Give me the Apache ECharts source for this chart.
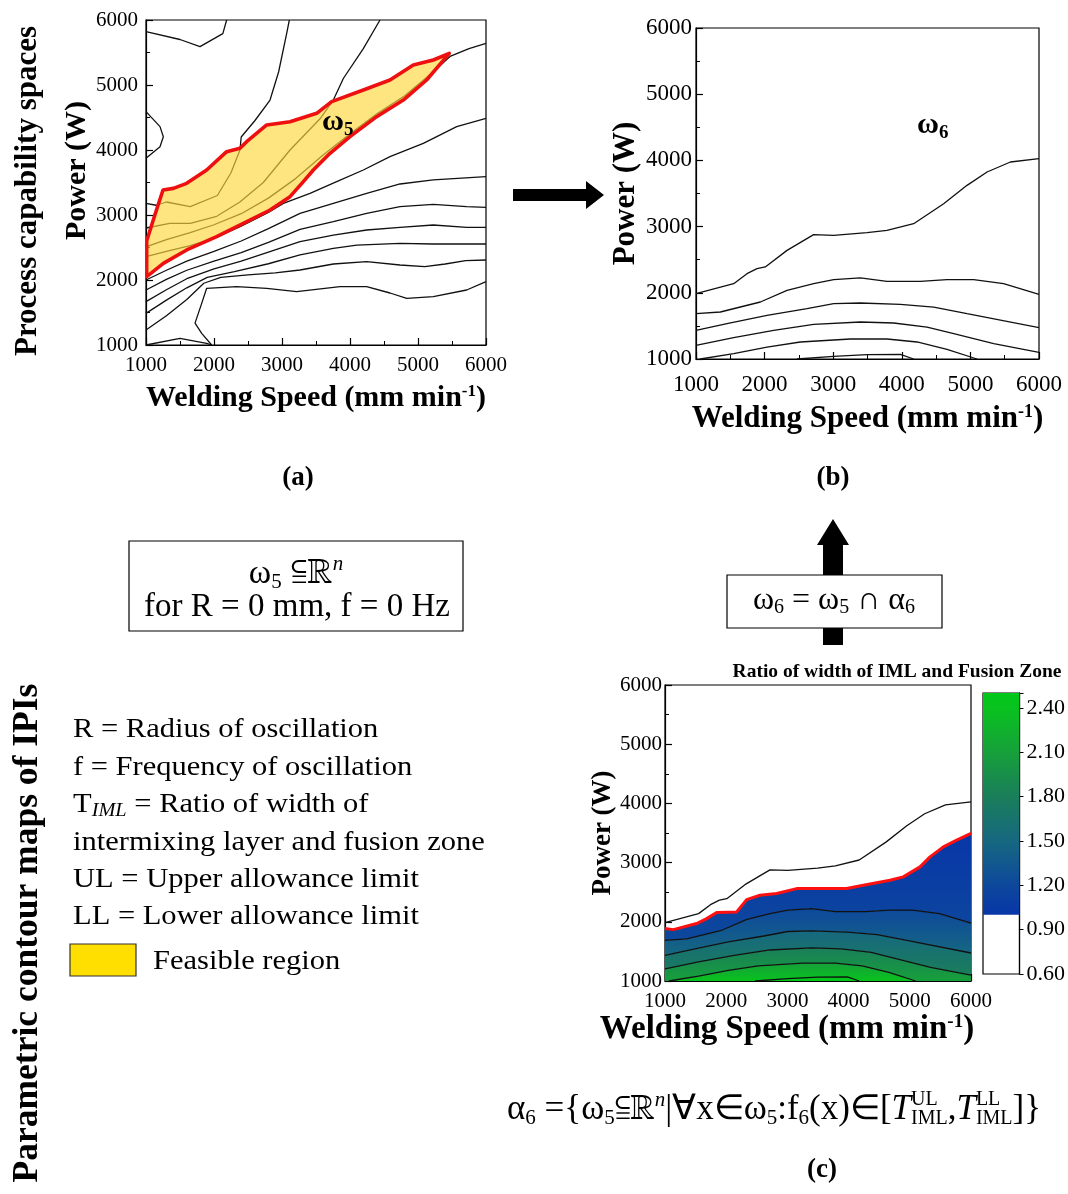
<!DOCTYPE html>
<html><head><meta charset="utf-8">
<script src="https://cdn.jsdelivr.net/npm/echarts@6/dist/echarts.min.js"></script>
<style>html,body{margin:0;padding:0;background:#fff}#c{width:1068px;height:1194px}</style>
</head><body><div id="c"></div>
<script>
// ---------------- DATA ----------------
const speedTicks = [1000, 2000, 3000, 4000, 5000, 6000];
const powerTicks = [1000, 2000, 3000, 4000, 5000, 6000];
const colorbarTicks = [0.60, 0.90, 1.20, 1.50, 1.80, 2.10, 2.40];
const colorbarRange = [0.60, 2.50];
const feasibleThreshold = 1.0;

// (a) process capability space: contour lines [speed, power]
const aTopLeft = [[1000,5820],[1500,5700],[1794,5590],[2130,5790],[2186,6000]];
const aLeftBump = [[1000,4590],[1206,4359],[1255,4205],[1206,4051],[1000,3872]];
const aLineA = [[1000,3180],[1150,3150],[1300,3200],[1650,3130],[2050,3300],[2250,3650],[2382,4000],[2400,4200],[2600,4450],[2824,4769],[2950,5200],[3069,5795],[3108,6000]];
const aLineB = [[1000,2800],[1350,2870],[1650,2870],[2040,2980],[2380,3200],[2725,3500],[3118,4000],[3559,4480],[3755,4769],[3902,5100],[4196,5560],[4441,6000]];
const aLineC = [[1000,2510],[1300,2620],[1650,2730],[2000,2850],[2400,3020],[2800,3260],[3200,3560],[3600,3920],[4000,4250],[4400,4560],[4800,4830],[5200,5180],[5471,5440],[5750,5560],[6000,5641]];
const aLineD = [[1000,2360],[1300,2440],[1650,2530],[2000,2640],[2400,2830],[2800,3040],[3020,3179],[3412,3333],[3804,3513],[4196,3692],[4588,3897],[5078,4103],[5569,4359],[6000,4487]];
const aLineE = [[1000,2000],[1300,2150],[1600,2290],[2000,2440],[2400,2600],[2800,2790],[3265,3026],[3755,3180],[4245,3333],[4735,3477],[5225,3539],[6000,3590]];
const aLineF = [[1000,1846],[1300,2010],[1600,2150],[2000,2290],[2400,2420],[2800,2580],[3265,2779],[3755,2897],[4245,3026],[4735,3128],[5225,3164],[5716,3128],[6000,3118]];
const aLineG = [[1000,1667],[1300,1850],[1600,2020],[2000,2170],[2400,2290],[2800,2430],[3265,2590],[3755,2692],[4245,2769],[4735,2810],[5225,2846],[5716,2810],[6000,2810]];
const aLineH = [[1000,1487],[1300,1690],[1600,1880],[1900,2040],[2300,2130],[2800,2250],[3265,2385],[3755,2487],[4100,2538],[4735,2564],[5225,2554],[6000,2554]];
const aLineI = [[1000,1231],[1300,1450],[1600,1700],[1850,1950],[2100,2040],[2500,2080],[2900,2110],[3265,2154],[3755,2246],[4245,2282],[4735,2231],[5100,2205],[5400,2246],[5700,2297],[6000,2308]];
const aLineJ = [[6000,1974],[5716,1846],[5225,1744],[4834,1718],[4588,1800],[4245,1897],[3853,1897],[3216,1821],[2775,1872],[2333,1897],[1892,1872],[1819,1641],[1721,1336],[1819,1180],[1966,1000]];
const aLineK = [[1000,1000],[1500,1103],[1892,1026],[1966,1000]];
// feasible region boundary (left -> right)
const feasibleUpper = [[1010,2051],[1010,2600],[1130,3000],[1250,3385],[1402,3410],[1598,3487],[1892,3692],[2186,3974],[2382,4026],[2480,4128],[2775,4385],[3118,4436],[3510,4564],[3730,4744],[4196,4923],[4588,5077],[4931,5308],[5225,5385],[5460,5487]];
const feasibleLower = [[1010,2051],[1255,2256],[1598,2462],[2039,2667],[2431,2872],[2824,3077],[3118,3282],[3314,3513],[3461,3692],[3706,3949],[4000,4205],[4392,4513],[4784,4769],[5127,5077],[5460,5487]];

// (b)/(c) contour lines of T_IML
const bLine1 = [[1000,1987],[1549,2138],[1743,2289],[1889,2365],[2010,2390],[2327,2641],[2715,2878],[3007,2868],[3493,2908],[3784,2944],[4173,3044],[4610,3346],[4951,3623],[5243,3825],[5583,3976],[6000,4026]];
const bLine2 = [[1000,1685],[1355,1710],[1938,1861],[2327,2037],[2715,2138],[3007,2198],[3396,2224],[3784,2173],[4270,2173],[4659,2198],[5047,2198],[5484,2138],[6000,1977]];
const bLine3 = [[1000,1433],[1452,1534],[2035,1660],[2618,1760],[3007,1836],[3396,1846],[3979,1826],[4465,1785],[4951,1685],[6000,1473]];
const bLine4 = [[1000,1206],[1549,1322],[2132,1433],[2715,1524],[3396,1559],[3882,1544],[4368,1483],[4757,1383],[5340,1232],[6000,1101]];
const bLine5 = [[1063,1000],[1549,1081],[2035,1181],[2521,1257],[3250,1302],[3784,1302],[4222,1257],[4659,1146],[5096,1000]];
const bLine6 = [[2472,1000],[3007,1040],[3493,1065],[3979,1070],[4173,1000]];
const bandLevels = [1.0, 1.2, 1.5, 1.8, 2.1, 2.4];
// (c) T_IML = 1.0 boundary (red)
const cRedBoundary = [[1000,1885],[1136,1868],[1517,1970],[1681,2054],[1844,2156],[2171,2167],[2334,2375],[2552,2449],[2825,2477],[3151,2561],[3587,2561],[3968,2561],[4241,2618],[4676,2702],[4894,2759],[5167,2928],[5330,3097],[5548,3266],[5766,3379],[6000,3492]];

// ---------------- HELPERS ----------------
const SERIF = '"Liberation Serif", "Times New Roman", serif';
const R = s => s + 'px ' + SERIF, I = s => 'italic ' + s + 'px ' + SERIF, B = s => 'bold ' + s + 'px ' + SERIF;
const colorStops = [[1.0,'#0836a8'],[1.2,'#0d489c'],[1.5,'#166880'],[1.8,'#1a7e5a'],[2.1,'#16a03a'],[2.4,'#08c21e'],[2.5,'#00c818']];
function hex(c){return [1,3,5].map(i=>parseInt(c.substr(i,2),16));}
function colorAt(v){
  for(let i=0;i<colorStops.length-1;i++){
    const [a,ca]=colorStops[i],[b,cb]=colorStops[i+1];
    if(v<=b){const t=Math.max(0,(v-a)/(b-a));const A=hex(ca),Bc=hex(cb);
      return 'rgb('+A.map((x,k)=>Math.round(x+(Bc[k]-x)*t)).join(',')+')';}
  }
  return colorStops[colorStops.length-1][1];
}
const grad = (top,bot)=>new echarts.graphic.LinearGradient(0,0,0,1,[{offset:0,color:top},{offset:1,color:bot}]);

function lineS(pts, ax, color, width, z){
  return {type:'line', xAxisIndex:ax, yAxisIndex:ax, data:pts, symbol:'none', showSymbol:false,
    lineStyle:{color:color||'#000', width:width||1.3}, z:z||3, silent:true, clip:true};
}
function polyS(pts, ax, style, z){
  return {type:'custom', xAxisIndex:ax, yAxisIndex:ax, data:pts, encode:{x:0,y:1}, z:z||2, silent:true, clip:true,
    renderItem:(params, api)=>{
      if(params.dataIndex!==0) return null;
      return {type:'polygon', shape:{points:pts.map(p=>api.coord(p))}, style:style};
    }};
}
const rev = a => a.slice().reverse();

function xa(gi, tick, nameSize, gap, margin, shift){
  const sup = Math.round(nameSize*0.58);
  return {gridIndex:gi, type:'value', min:speedTicks[0], max:speedTicks[speedTicks.length-1], interval:speedTicks[1]-speedTicks[0],
    axisLine:{onZero:false, lineStyle:{color:'#000', width:1.2}},
    axisTick:{inside:true, length:7, lineStyle:{color:'#000', width:1.2}},
    minorTick:{show:true, splitNumber:2, length:4, lineStyle:{color:'#000', width:1}},
    splitLine:{show:false},
    axisLabel:{color:'#000', fontFamily:SERIF, fontSize:tick, margin:margin, formatter:v=>String(v)},
    name:'Welding Speed (mm min{sup|-1})', nameLocation:'middle', nameGap:gap,
    nameTextStyle:{color:'#000', fontFamily:SERIF, fontWeight:'bold', fontSize:nameSize, lineHeight:nameSize,
      padding: shift ? [0, shift, 0, 0] : 0,
      rich:{sup:{color:'#000', fontFamily:SERIF, fontWeight:'bold', fontSize:sup, lineHeight:sup, verticalAlign:'top'}}}
  };
}
function ya(gi, tick, nameSize, gap, margin, shift){
  return {gridIndex:gi, type:'value', min:powerTicks[0], max:powerTicks[powerTicks.length-1], interval:powerTicks[1]-powerTicks[0],
    axisLine:{onZero:false, lineStyle:{color:'#000', width:1.2}},
    axisTick:{inside:true, length:7, lineStyle:{color:'#000', width:1.2}},
    minorTick:{show:true, splitNumber:2, length:4, lineStyle:{color:'#000', width:1}},
    splitLine:{show:false},
    axisLabel:{color:'#000', fontFamily:SERIF, fontSize:tick, margin:margin, formatter:v=>String(v)},
    name:'Power (W)', nameLocation:'middle', nameGap:gap,
    nameTextStyle:{color:'#000', fontFamily:SERIF, fontWeight:'bold', fontSize:nameSize, padding: shift ? [0,0,0,shift] : 0}
  };
}

// inline text runs measured with canvas
const mctx = document.createElement('canvas').getContext('2d');
function tw(t,f){mctx.font=f;return mctx.measureText(t).width;}
function runs(x, y, pieces, align, z){
  const widths = pieces.map(p=>p.stack?Math.max(...p.stack.map(s=>tw(s.t,s.f))):tw(p.t,p.f));
  const total = widths.reduce((a,b)=>a+b,0);
  let cx = align==='center'? x-total/2 : x;
  const els=[];
  pieces.forEach((p,i)=>{
    const parts = p.stack||[p];
    parts.forEach(s=>els.push({type:'text', x:cx, y:y+(s.dy||0), z:z||100,
      style:{text:s.t, font:s.f, fill:'#000', textAlign:'left', textVerticalAlign:'middle', align:'left', verticalAlign:'middle'}}));
    cx += widths[i];
  });
  return els;
}
function txt(x,y,t,f,opts){
  opts=opts||{};
  return Object.assign({type:'text', x:x, y:y, z:100, rotation:opts.rot||0, scaleX:opts.sx||1,
    style:Object.assign({text:t, font:f, fill:'#000', textAlign:opts.align||'center', textVerticalAlign:'middle',
      align:opts.align||'center', verticalAlign:'middle'}, opts.style||{})});
}

// ---------------- SERIES ----------------
const series = [];
// (a)
[aTopLeft,aLeftBump,aLineA,aLineB,aLineC,aLineD,aLineE,aLineF,aLineG,aLineH,aLineI,aLineJ,aLineK].forEach(l=>series.push(lineS(l,0,'#111',1.3,3)));
const feasiblePoly = feasibleUpper.concat(rev(feasibleLower));
series.push(polyS(feasiblePoly,0,{fill:'rgba(255,216,60,0.66)'},4));
series.push(polyS(feasiblePoly,0,{fill:'none', stroke:'#ee1010', lineWidth:3.6, lineJoin:'round'},5));
// (b)
[bLine1,bLine2,bLine3,bLine4,bLine5,bLine6].forEach(l=>series.push(lineS(l,1,'#111',1.3,3)));
// (c) bands
const cLines = [bLine2,bLine3,bLine4,bLine5,bLine6];
const band0 = cRedBoundary.concat(rev(bLine2));
const band1 = bLine2.concat(rev(bLine3));
const band2 = bLine3.concat(rev(bLine4));
const band3 = bLine4.concat([[6000,1000]], rev(bLine5), [[1000,1000]]);
const band4 = bLine5.slice();
const band5 = bLine6.slice();
[band0,band1,band2,band3,band4,band5].forEach((b,i)=>{
  const top = colorAt(i===0?feasibleThreshold:bandLevels[i]);
  const bot = colorAt(i+1<bandLevels.length?bandLevels[i+1]:colorbarRange[1]);
  series.push(polyS(b,2,{fill:grad(top,bot)},1));
});
[bLine1].concat(cLines).forEach(l=>series.push(lineS(l,2,'#111',1.3,3)));
series.push(lineS(cRedBoundary,2,'#ff1010',3,4));
// colorbar
series.push({type:'bar', xAxisIndex:3, yAxisIndex:3, stack:'cb', data:[feasibleThreshold], barWidth:'100%', itemStyle:{color:'rgba(255,255,255,0)'}, silent:true});
const cbStops = colorStops.filter(s=>s[0]>=feasibleThreshold).map(s=>({offset:(colorbarRange[1]-s[0])/(colorbarRange[1]-feasibleThreshold), color:s[1]})).reverse();
series.push({type:'bar', xAxisIndex:3, yAxisIndex:3, stack:'cb', data:[colorbarRange[1]-feasibleThreshold], barWidth:'100%',
  itemStyle:{color:new echarts.graphic.LinearGradient(0,0,0,1,cbStops)}, silent:true});

// ---------------- GRAPHICS (text, boxes, arrows) ----------------
const G = [];
G.push(txt(28,191,'Process capability spaces',B(31),{rot:Math.PI/2}));
G.push(txt(28,933,'Parametric contour maps of IPIs',B(35.5),{rot:Math.PI/2}));
G.push(txt(298,478,'(a)',B(27)));
G.push(txt(833,478,'(b)',B(27)));
G.push(txt(822,1170,'(c)',B(27)));
// arrows
G.push({type:'polygon', z:90, shape:{points:[[513,189],[586,189],[586,181],[604,195],[586,209],[586,201],[513,201]]}, style:{fill:'#000'}});
G.push({type:'polygon', z:90, shape:{points:[[823,645],[823,545],[817,545],[833,519],[849,545],[843,545],[843,645]]}, style:{fill:'#000'}});
// box 1
G.push({type:'rect', z:95, shape:{x:129,y:541,width:334,height:90}, style:{fill:'#fff', stroke:'#000', lineWidth:1.2}});
runs(296,574,[{t:'ω',f:R(34)},{t:'5',f:R(21),dy:8},{t:' ⫅ℝ',f:R(36)},{t:'n',f:I(21),dy:-10}],'center').forEach(e=>G.push(e));
G.push(txt(297,607,'for R = 0 mm, f = 0 Hz',R(33)));
// box 2
G.push({type:'rect', z:95, shape:{x:727,y:575,width:215,height:53}, style:{fill:'#fff', stroke:'#000', lineWidth:1.2}});
runs(834,601,[{t:'ω',f:R(32)},{t:'6',f:R(20),dy:7},{t:' = ω',f:R(32)},{t:'5',f:R(20),dy:7},{t:' ∩ α',f:R(32)},{t:'6',f:R(20),dy:7}],'center').forEach(e=>G.push(e));
// legend text
const legendLines = ['R = Radius of oscillation','f = Frequency of oscillation','T{s|IML} = Ratio of width of','intermixing layer and fusion zone','UL = Upper allowance limit','LL = Lower allowance limit'];
const legendY = [730,768,805,843,880,917];
legendLines.forEach((t,i)=>G.push(txt(73,legendY[i],t,R(27),{align:'left', sx:1.13,
  style:{lineHeight:30, rich:{s:{font:I(18), fill:'#000', lineHeight:18, verticalAlign:'bottom'}}}})));
G.push({type:'rect', z:95, shape:{x:70,y:944,width:66,height:32}, style:{fill:'#ffdf00', stroke:'#333', lineWidth:1.2}});
G.push(txt(153,962,'Feasible region',R(27),{align:'left', sx:1.13}));
// formula
const FS = 35, FSS = 21;
const stackUL = {stack:[{t:'UL',f:R(20),dy:-10},{t:'IML',f:R(20),dy:9}]};
const stackLL = {stack:[{t:'LL',f:R(20),dy:-10},{t:'IML',f:R(20),dy:9}]};
runs(507,1110,[{t:'α',f:R(FS)},{t:'6',f:R(FSS),dy:8},{t:' ={ω',f:R(FS)},{t:'5',f:R(FSS),dy:8},{t:'⫅ℝ',f:R(FS)},{t:'n',f:I(FSS),dy:-10},
  {t:'|∀x∈ω',f:R(FS)},{t:'5',f:R(FSS),dy:8},{t:':f',f:R(FS)},{t:'6',f:R(FSS),dy:8},{t:'(x)∈[',f:R(FS)},{t:'T',f:I(FS)},stackUL,
  {t:',',f:R(FS)},{t:'T',f:I(FS)},stackLL,{t:']}',f:R(FS)}],'left').forEach(e=>G.push(e));
// in-plot labels
runs(322,122,[{t:'ω',f:B(30)},{t:'5',f:B(19),dy:8}],'left').forEach(e=>G.push(e));
runs(917,125,[{t:'ω',f:B(30)},{t:'6',f:B(19),dy:8}],'left').forEach(e=>G.push(e));
G.push(txt(897,672,'Ratio of width of IML and Fusion Zone',B(19.5)));

// ---------------- OPTION ----------------
const option = {
  animation:false, backgroundColor:'#fff',
  grid:[
    {left:146, top:20, width:340, height:325, show:true, borderColor:'#000', borderWidth:1.2, backgroundColor:'rgba(0,0,0,0)'},
    {left:696, top:28, width:343, height:331, show:true, borderColor:'#000', borderWidth:1.2, backgroundColor:'rgba(0,0,0,0)'},
    {left:665, top:685, width:306, height:296, show:true, borderColor:'#000', borderWidth:1.2, backgroundColor:'rgba(0,0,0,0)'},
    {left:983, top:693, width:49, height:281, show:true, borderColor:'#000', borderWidth:1.2, backgroundColor:'rgba(0,0,0,0)'}
  ],
  xAxis:[xa(0,21,30,38,10), xa(1,23,31,44,14), xa(2,21,33,31,10,62), {gridIndex:3, type:'category', data:['T'], show:false}],
  yAxis:[ya(0,21,30,44,8,24), ya(1,23,31,55,4), ya(2,21,27,48,3),
    {gridIndex:3, type:'value', position:'right', min:colorbarRange[0], max:colorbarRange[1], interval:colorbarTicks[1]-colorbarTicks[0],
      axisLine:{show:true, lineStyle:{color:'#000', width:1.2}}, axisTick:{show:true, inside:false, length:4, lineStyle:{color:'#000'}},
      splitLine:{show:false},
      axisLabel:{color:'#000', fontFamily:SERIF, fontSize:22, margin:7,
        formatter:v=>colorbarTicks.some(t=>Math.abs(t-v)<1e-6)?v.toFixed(2):''}}],
  series:series,
  graphic:{elements:G}
};
const chart = echarts.init(document.getElementById('c'), null, {renderer:'canvas'});
chart.setOption(option);
</script></body></html>
